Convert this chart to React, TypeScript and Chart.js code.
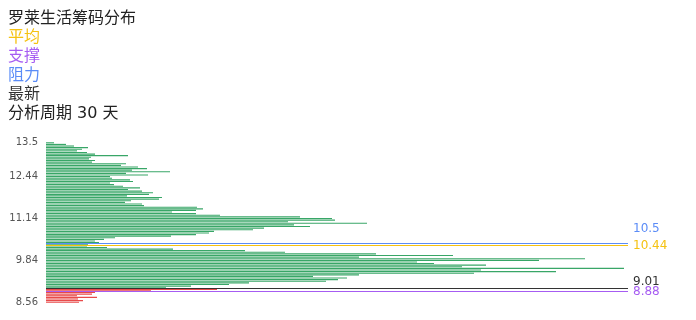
import React, { useEffect, useRef } from 'react';
import { Chart, registerables } from 'chart.js';

Chart.register(...registerables);

// price levels (bottom -> top)
const PRICE_LEVELS = [
  '8.56', '8.61', '8.65', '8.70', '8.74', '8.79', '8.83', '8.88', '8.97', '9.03',
  '9.08', '9.13', '9.17', '9.22', '9.27', '9.32', '9.36', '9.41', '9.46', '9.51',
  '9.55', '9.60', '9.65', '9.70', '9.74', '9.79', '9.84', '9.90', '9.97', '10.03',
  '10.10', '10.16', '10.23', '10.29', '10.36', '10.42', '10.47', '10.52', '10.56', '10.60',
  '10.64', '10.69', '10.73', '10.77', '10.81', '10.85', '10.89', '10.93', '10.97', '11.02',
  '11.06', '11.10', '11.14', '11.19', '11.24', '11.29', '11.34', '11.39', '11.44', '11.49',
  '11.54', '11.59', '11.64', '11.69', '11.74', '11.79', '11.84', '11.89', '11.94', '11.99',
  '12.04', '12.09', '12.14', '12.19', '12.24', '12.29', '12.34', '12.39', '12.44', '12.49',
  '12.54', '12.59', '12.64', '12.69', '12.74', '12.79', '12.84', '12.89', '12.94', '12.99',
  '13.04', '13.09', '13.14', '13.19', '13.24', '13.29', '13.34', '13.39', '13.44', '13.5',
];

// chip volume at each price level (same order)
const CHIP_VOLUMES = [
  33, 37, 32, 51, 31, 46, 49, 105, 171, 120,
  145, 183, 203, 280, 292, 301, 267, 313, 428, 510,
  435, 578, 416, 440, 388, 371, 493, 539, 313, 407,
  330, 239, 199, 127, 61, 41, 42, 53, 49, 58,
  69, 125, 150, 163, 168, 207, 218, 264, 248, 321,
  242, 289, 286, 254, 174, 150, 126, 150, 157, 151,
  98, 96, 79, 85, 113, 116, 81, 103, 107, 96,
  82, 94, 77, 68, 64, 87, 84, 66, 64, 102,
  80, 124, 86, 101, 92, 75, 80, 46, 49, 43,
  45, 82, 49, 41, 31, 36, 42, 28, 20, 8,
];

const Y_TICK_LABELS = ['8.56', '9.84', '11.14', '12.44', '13.5'];

const MARK_NAMES = ['平均', '支撑', '阻力', '最新'];
const MARK_VALUES = [10.44, 8.88, 10.5, 9.01];

const TITLE = '罗莱生活筹码分布';
const PERIOD_DAYS = 30;
const VOLUME_MAX = 582;

// styles
const MARK_COLORS = ['#f5c211', '#a65cf2', '#5b8cf7', '#333333'];
const MARK_LABEL_SHIFT = [0, 0, -15, -7];
const FONT = '"DejaVu Sans", "Noto Sans CJK SC", sans-serif';
const GREEN = '#38a667';
const RED = '#e84a4a';

function priceToIndex(p: number): number {
  const nums = PRICE_LEVELS.map(Number);
  for (let i = 0; i < nums.length - 1; i++) {
    if (p >= nums[i] && p <= nums[i + 1]) {
      return i + (p - nums[i]) / (nums[i + 1] - nums[i]);
    }
  }
  return p < nums[0] ? 0 : nums.length - 1;
}

const markLinePlugin = {
  id: 'markLines',
  afterDatasetsDraw(chart: any) {
    const { ctx, chartArea, scales } = chart;
    const y = scales.y;
    MARK_VALUES.forEach((v, k) => {
      const py = Math.round(y.getPixelForValue(priceToIndex(v))) + 0.5;
      ctx.save();
      ctx.strokeStyle = MARK_COLORS[k];
      ctx.lineWidth = 1;
      ctx.beginPath();
      ctx.moveTo(chartArea.left, py);
      ctx.lineTo(chartArea.right, py);
      ctx.stroke();
      ctx.fillStyle = MARK_COLORS[k];
      ctx.font = `12px ${FONT}`;
      ctx.textAlign = 'left';
      ctx.textBaseline = 'middle';
      ctx.fillText(String(v), chartArea.right + 5, py + MARK_LABEL_SHIFT[k]);
      ctx.restore();
    });
  },
};

export default function App() {
  const canvasRef = useRef<HTMLCanvasElement | null>(null);

  useEffect(() => {
    const canvas = canvasRef.current;
    if (!canvas) return;
    const current = MARK_VALUES[MARK_NAMES.indexOf('最新')];
    const colors = PRICE_LEVELS.map((p) => (Number(p) < current ? RED : GREEN));
    const chart = new Chart(canvas, {
      type: 'bar',
      data: {
        labels: PRICE_LEVELS,
        datasets: [
          {
            data: CHIP_VOLUMES,
            backgroundColor: colors,
            borderWidth: 0,
            barPercentage: 1,
            categoryPercentage: 0.7,
          },
        ],
      },
      options: {
        indexAxis: 'y',
        responsive: false,
        animation: false,
        devicePixelRatio: 1,
        layout: { padding: { top: 142, bottom: 17, left: 0, right: 68 } },
        plugins: { legend: { display: false }, tooltip: { enabled: false } },
        scales: {
          x: { type: 'linear', display: false, min: 0, max: VOLUME_MAX },
          y: {
            type: 'category',
            reverse: true,
            grid: { display: false, drawTicks: false },
            border: { display: false },
            ticks: {
              autoSkip: false,
              padding: 8,
              color: '#555',
              font: { size: 10, family: FONT },
              callback: (value: any) => {
                const l = PRICE_LEVELS[value as number];
                return Y_TICK_LABELS.includes(l) ? l : '';
              },
            },
            afterFit: (s: any) => {
              s.width = 46;
            },
          },
        },
      },
      plugins: [markLinePlugin],
    } as any);
    return () => chart.destroy();
  }, []);

  return (
    <div style={{ position: 'fixed', left: 0, top: 0, width: 696, height: 320, background: '#fff' }}>
      <canvas ref={canvasRef} width={696} height={320} style={{ display: 'block' }} />
      <div
        style={{
          position: 'absolute',
          left: 8,
          top: 8,
          font: `16px/19px ${FONT}`,
          color: '#222',
          whiteSpace: 'nowrap',
        }}
      >
        <div>{TITLE}</div>
        {MARK_NAMES.map((n, k) => (
          <div key={n} style={{ color: MARK_COLORS[k] }}>
            {n}
          </div>
        ))}
        <div>分析周期 {PERIOD_DAYS} 天</div>
      </div>
    </div>
  );
}
